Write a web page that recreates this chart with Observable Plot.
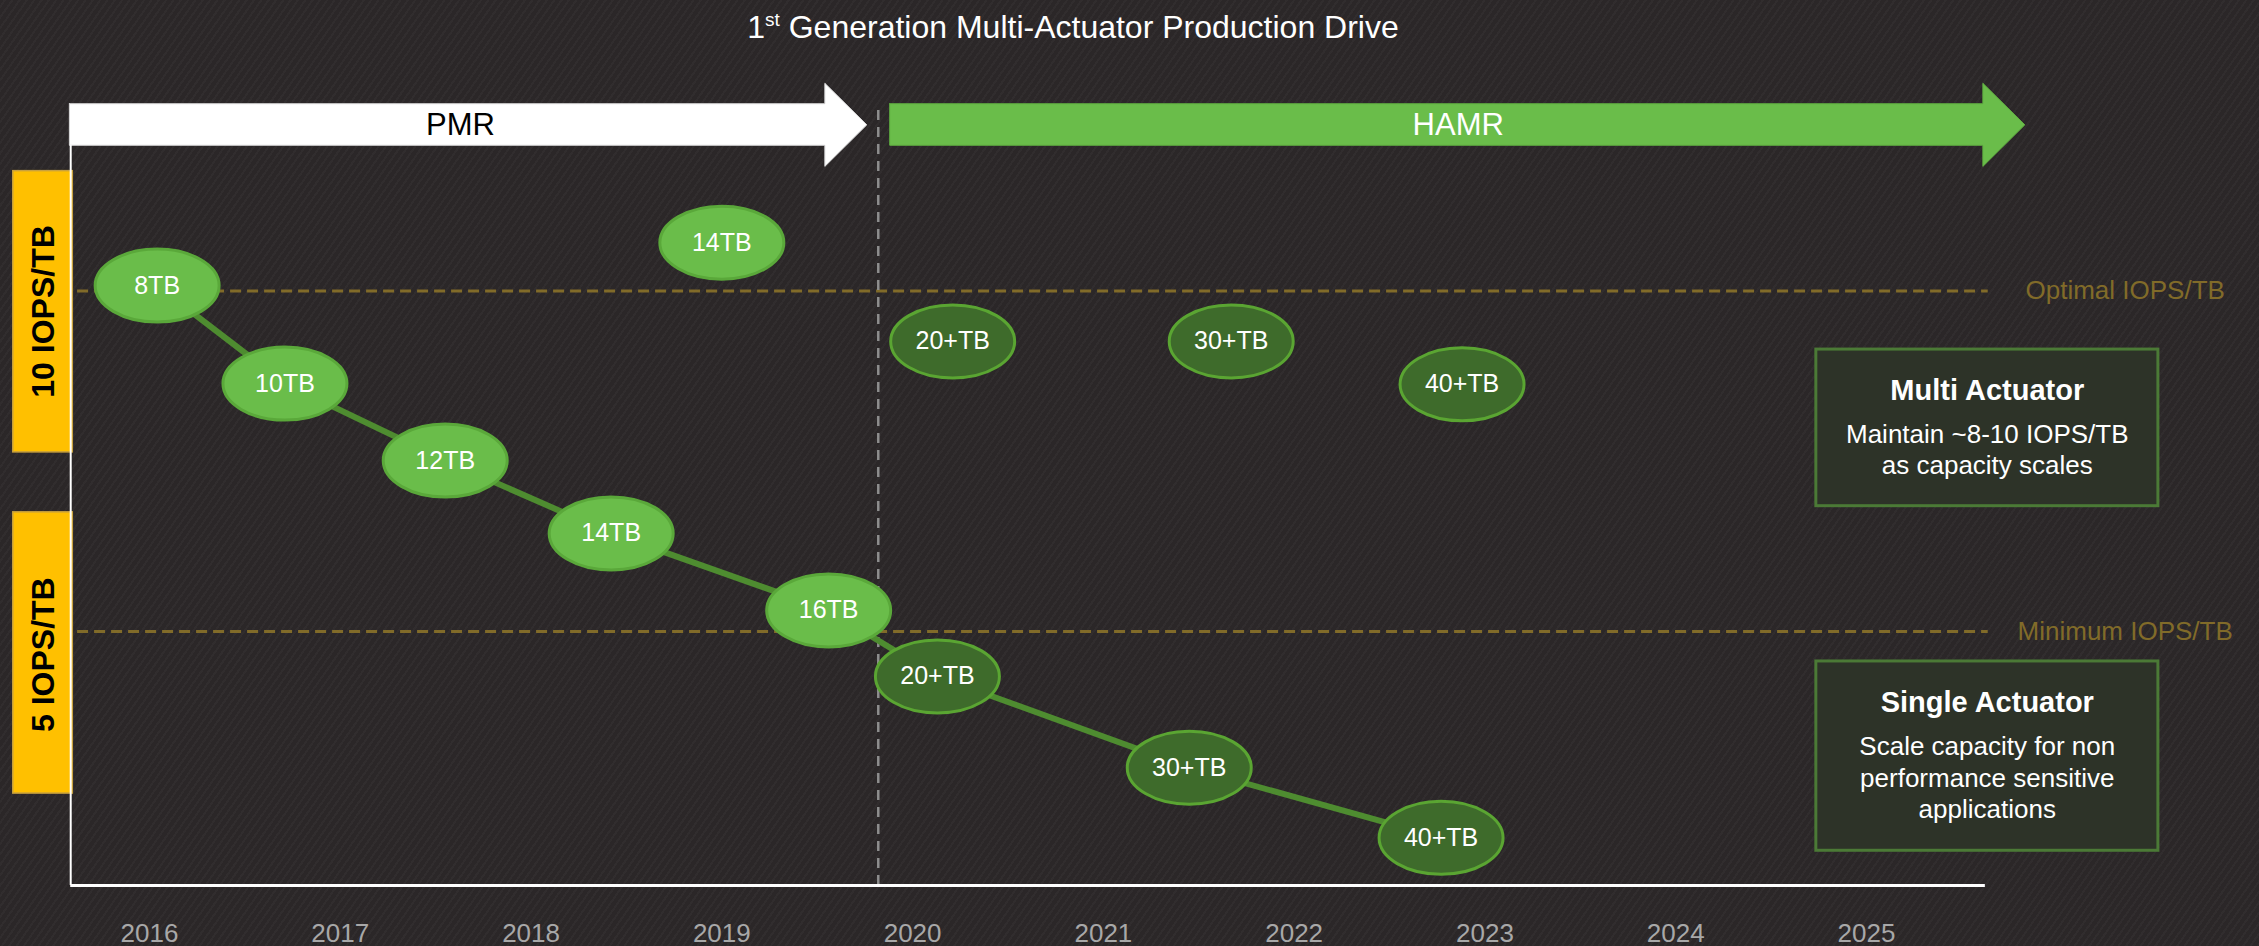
<!DOCTYPE html>
<html>
<head>
<meta charset="utf-8">
<script src="https://cdn.jsdelivr.net/npm/d3@7"></script>
<script src="https://cdn.jsdelivr.net/npm/@observablehq/plot@0.6"></script>
<style>
html, body { margin: 0; padding: 0; }
body {
  width: 2259px; height: 946px; overflow: hidden;
  background-color: #2b2728;
  background-image: repeating-linear-gradient(-55deg, rgba(255,255,255,0.028) 0px, rgba(255,255,255,0.028) 2px, rgba(0,0,0,0) 2px, rgba(0,0,0,0) 6px);
  font-family: "Liberation Sans", Arial, sans-serif;
}
#wrap { position: relative; width: 2259px; height: 946px; }
#title {
  position: absolute; top: 11px; left: 1073px; transform: translateX(-50%);
  white-space: nowrap; color: #ffffff; font-size: 32px; line-height: 32px;
  font-family: "Liberation Sans", Arial, sans-serif;
}
#title sup { font-size: 19px; line-height: 0; vertical-align: 12px; }
#chart svg { display: block; }
</style>
</head>
<body>
<div id="wrap">
  <div id="chart"></div>
  <div id="title">1<sup>st</sup> Generation Multi-Actuator Production Drive</div>
</div>
<script>
// ---------------- data ----------------
const years = [2016, 2017, 2018, 2019, 2020, 2021, 2022, 2023, 2024, 2025];

// single-actuator roadmap (capacity grows, IOPS/TB falls)
const singleLabels = ["8TB", "10TB", "12TB", "14TB", "16TB", "20+TB", "30+TB", "40+TB"];
const singleYear   = [2016.04, 2016.71, 2017.55, 2018.42, 2019.56, 2020.13, 2021.45, 2022.77];
const singleIops   = [10.08, 8.64, 7.51, 6.44, 5.31, 4.34, 3.00, 1.97];
const singleTech   = ["PMR", "PMR", "PMR", "PMR", "PMR", "HAMR", "HAMR", "HAMR"];

// multi-actuator roadmap
const multiLabels = ["14TB", "20+TB", "30+TB", "40+TB"];
const multiYear   = [2019.0, 2020.21, 2021.67, 2022.88];
const multiIops   = [10.71, 9.26, 9.26, 8.63];
const multiTech   = ["PMR", "HAMR", "HAMR", "HAMR"];

// recording technology phases
const phaseNames = ["PMR", "HAMR"];
const phaseStart = [2015.58, 2019.88];
const phaseEnd   = [2019.76, 2025.83];
const phaseLabelX = [2017.63, 2022.86];
const generationBreak = 2019.82;

// thresholds
const thresholdNames  = ["Optimal IOPS/TB", "Minimum IOPS/TB"];
const thresholdValues = [10, 5];

// y bands
const bandLabels = ["10 IOPS/TB", "5 IOPS/TB"];
const bandTop    = [11.76, 6.75];
const bandBottom = [7.63, 2.62];
const bandMid    = [9.70, 4.66];

// call-out boxes
const boxTitles = ["Multi Actuator", "Single Actuator"];
const boxTexts  = ["Maintain ~8-10 IOPS/TB\nas capacity scales", "Scale capacity for non\nperformance sensitive\napplications"];
const boxTop    = [9.14, 4.56];
const boxBottom = [6.84, 1.78];
const boxTitleY = [8.54, 3.96];
const boxTextY  = [7.69, 2.87];

// ---------------- layout constants ----------------
const X_LEFT = 2015.587, X_RIGHT = 2025.623, Y_BASE = 1.27;
const DASH_X1 = 2015.623, DASH_X2 = 2025.638;
const ARROW = { headTop: 13.05, bodyTop: 12.75, mid: 12.44, bodyBottom: 12.14, headBottom: 11.83, head: 0.22 };
const BAND_X1 = 2015.286, BAND_X2 = 2015.598, BAND_TEXT_X = 2015.444;
const BOX_X1 = 2024.737, BOX_X2 = 2026.53, BOX_CX = 2025.633;
const THRESH_LABEL_X = 2026.356;
const RX = 62, RY = 36.5;

const FONT = "'Liberation Sans', Arial, sans-serif";
const LIGHT_FILL = "#6abd4a", LIGHT_STROKE = "#5aa83a";
const DARK_FILL = "#3e6b2b", DARK_STROKE = "#5aa532";
const GOLD = "#816b29";

// ---------------- build tables ----------------
const single = singleLabels.map((label, i) => ({label, year: singleYear[i], iops: singleIops[i], tech: singleTech[i]}));
const multi  = multiLabels.map((label, i) => ({label, year: multiYear[i], iops: multiIops[i], tech: multiTech[i]}));
const drives = single.concat(multi);
const phases = phaseNames.map((name, i) => ({name, start: phaseStart[i], end: phaseEnd[i], labelX: phaseLabelX[i]}));
const thresholds = thresholdNames.map((name, i) => ({name, value: thresholdValues[i]}));
const bands = bandLabels.map((label, i) => ({label, top: bandTop[i], bottom: bandBottom[i], mid: bandMid[i]}));
const boxes = boxTitles.map((title, i) => ({title, text: boxTexts[i], top: boxTop[i], bottom: boxBottom[i], titleY: boxTitleY[i], textY: boxTextY[i]}));

function arrowPolygon(p) {
  const hb = p.end - ARROW.head;
  return [
    [p.start, ARROW.bodyTop], [hb, ARROW.bodyTop], [hb, ARROW.headTop], [p.end, ARROW.mid],
    [hb, ARROW.headBottom], [hb, ARROW.bodyBottom], [p.start, ARROW.bodyBottom], [p.start, ARROW.bodyTop]
  ];
}

const ellipse = {
  draw(ctx) {
    const k = 0.5522847498;
    ctx.moveTo(RX, 0);
    ctx.bezierCurveTo(RX, RY * k, RX * k, RY, 0, RY);
    ctx.bezierCurveTo(-RX * k, RY, -RX, RY * k, -RX, 0);
    ctx.bezierCurveTo(-RX, -RY * k, -RX * k, -RY, 0, -RY);
    ctx.bezierCurveTo(RX * k, -RY, RX, -RY * k, RX, 0);
    ctx.closePath();
  }
};

const isPMR = (d) => d.tech === "PMR";
const isHAMR = (d) => d.tech === "HAMR";

const chart = Plot.plot({
  width: 2259,
  height: 946,
  marginTop: 0, marginRight: 0, marginBottom: 50, marginLeft: 0,
  style: { background: "transparent", fontFamily: FONT, overflow: "visible", color: "#ffffff" },
  x: { domain: [2016, 2025], range: [149, 1866], axis: null },
  y: { domain: [5, 10], range: [631, 290.5], axis: null },
  marks: [
    // technology arrows
    Plot.line(arrowPolygon(phases[0]), { fill: "#ffffff", stroke: "#d9d9d9", strokeWidth: 1 }),
    Plot.line(arrowPolygon(phases[1]), { fill: "#6abd4a", stroke: "#5fae40", strokeWidth: 1 }),
    Plot.text(phases, { x: "labelX", y: ARROW.mid, text: "name",
      fill: (d) => d.name === "PMR" ? "#000000" : "#ffffff", fontSize: 31 }),

    // y bands
    Plot.rect(bands, { x1: BAND_X1, x2: BAND_X2, y1: "top", y2: "bottom", fill: "#ffc000", stroke: "#c9a13d", strokeWidth: 1.5 }),
    Plot.text(bands, { x: BAND_TEXT_X, y: "mid", text: "label", rotate: -90, fill: "#000000", fontSize: 32, fontWeight: "bold" }),

    // threshold lines + labels
    Plot.ruleY(thresholds, { y: "value", x1: DASH_X1, x2: DASH_X2, stroke: GOLD, strokeWidth: 3, strokeDasharray: "11,6" }),
    Plot.text(thresholds, { x: THRESH_LABEL_X, y: "value", text: "name", fill: GOLD, fontSize: 26 }),

    // generation break
    Plot.ruleX([generationBreak], { y1: Y_BASE, y2: ARROW.bodyTop, stroke: "#8e8e8e", strokeWidth: 2.5, strokeDasharray: "10,7" }),

    // axes frame lines
    Plot.ruleY([Y_BASE], { x1: X_LEFT, x2: X_RIGHT, stroke: "#ffffff", strokeWidth: 3 }),
    Plot.ruleX([X_LEFT], { y1: Y_BASE, y2: ARROW.bodyBottom, stroke: "#ffffff", strokeWidth: 2 }),
    Plot.axisX(years, { anchor: "bottom", label: null, tickSize: 0, tickPadding: 27, fontSize: 26, fill: "#a8a8a8", tickFormat: (d) => String(d) }),

    // call-out boxes
    Plot.rect(boxes, { x1: BOX_X1, x2: BOX_X2, y1: "top", y2: "bottom", fill: "#2d3328", stroke: "#4b7a36", strokeWidth: 3 }),
    Plot.text(boxes, { x: BOX_CX, y: "titleY", text: "title", fill: "#ffffff", fontSize: 29, fontWeight: "bold" }),
    Plot.text(boxes, { x: BOX_CX, y: "textY", text: "text", fill: "#ffffff", fontSize: 26, lineHeight: 1.2 }),

    // single-actuator path
    Plot.line(single, { x: "year", y: "iops", stroke: "#4e8c30", strokeWidth: 6 }),

    // drive ellipses
    Plot.dot(drives.filter(isPMR), { x: "year", y: "iops", symbol: ellipse, fill: LIGHT_FILL, stroke: LIGHT_STROKE, strokeWidth: 3 }),
    Plot.dot(drives.filter(isHAMR), { x: "year", y: "iops", symbol: ellipse, fill: DARK_FILL, stroke: DARK_STROKE, strokeWidth: 3 }),
    Plot.text(drives, { x: "year", y: "iops", text: "label", fill: "#ffffff", fontSize: 25 })
  ]
});

document.getElementById("chart").appendChild(chart);
</script>
</body>
</html>
